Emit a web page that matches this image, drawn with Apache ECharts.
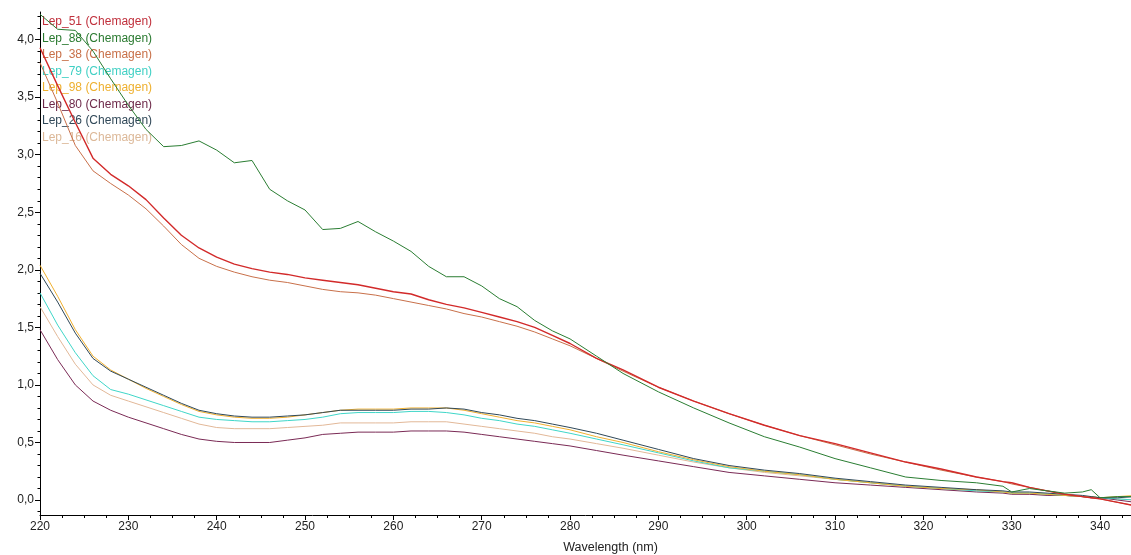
<!DOCTYPE html>
<html>
<head>
<meta charset="utf-8">
<script src="https://cdn.jsdelivr.net/npm/echarts@6/dist/echarts.min.js"></script>
<style>
  html, body { margin: 0; padding: 0; background: #ffffff; }
  #chart { width: 1131px; height: 555px; }
</style>
</head>
<body>
<div id="chart"></div>
<script>
// Wavelength sampling points (nm)
const wavelengths = [220,222,224,226,228,230,232,234,236,238,240,242,244,246,248,250,252,254,256,258,260,262,264,266,268,270,272,274,276,278,280,283,286,290,294,298,302,306,310,314,318,322,326,329,330,332,334,336,338,339,340,342,344];

// Absorbance spectra, one array per extract
const lep51 = [3.93,3.60,3.28,2.97,2.83,2.73,2.61,2.45,2.30,2.19,2.11,2.05,2.01,1.98,1.96,1.93,1.91,1.89,1.87,1.84,1.81,1.79,1.74,1.70,1.67,1.63,1.59,1.55,1.50,1.43,1.36,1.23,1.13,0.98,0.86,0.75,0.65,0.56,0.49,0.41,0.33,0.27,0.20,0.16,0.15,0.11,0.08,0.05,0.03,0.02,0.01,-0.02,-0.05];
const lep88 = [4.22,4.09,4.08,3.90,3.66,3.43,3.22,3.07,3.08,3.12,3.04,2.93,2.95,2.70,2.60,2.52,2.35,2.36,2.42,2.33,2.25,2.16,2.03,1.94,1.94,1.86,1.75,1.68,1.56,1.47,1.40,1.25,1.10,0.94,0.80,0.67,0.55,0.46,0.36,0.28,0.20,0.17,0.15,0.12,0.07,0.10,0.08,0.06,0.07,0.09,0.02,0.03,0.03];
const lep38 = [3.80,3.45,3.08,2.86,2.75,2.65,2.53,2.38,2.22,2.10,2.03,1.98,1.94,1.91,1.89,1.86,1.83,1.81,1.80,1.78,1.75,1.72,1.69,1.66,1.62,1.59,1.55,1.51,1.46,1.40,1.34,1.23,1.12,0.98,0.86,0.75,0.65,0.56,0.48,0.40,0.33,0.26,0.20,0.16,0.14,0.11,0.08,0.05,0.03,0.02,0.01,-0.02,-0.05];
const lep79 = [1.80,1.52,1.28,1.08,0.96,0.92,0.87,0.82,0.77,0.72,0.70,0.69,0.68,0.68,0.69,0.70,0.72,0.75,0.76,0.76,0.76,0.77,0.77,0.76,0.74,0.71,0.69,0.66,0.64,0.61,0.58,0.53,0.48,0.41,0.34,0.28,0.25,0.22,0.18,0.15,0.12,0.10,0.08,0.07,0.06,0.06,0.05,0.04,0.03,0.03,0.02,0.01,0.00];
const lep98 = [2.04,1.77,1.48,1.25,1.13,1.05,0.97,0.90,0.83,0.77,0.74,0.72,0.71,0.71,0.72,0.74,0.76,0.78,0.79,0.79,0.79,0.80,0.80,0.80,0.78,0.75,0.72,0.69,0.67,0.64,0.61,0.55,0.50,0.42,0.35,0.29,0.25,0.22,0.18,0.15,0.12,0.10,0.09,0.07,0.06,0.06,0.05,0.04,0.03,0.03,0.02,0.03,0.04];
const lep80 = [1.48,1.22,1.00,0.86,0.78,0.72,0.67,0.62,0.57,0.53,0.51,0.50,0.50,0.50,0.52,0.54,0.57,0.58,0.59,0.59,0.59,0.60,0.60,0.60,0.59,0.57,0.55,0.53,0.51,0.49,0.47,0.43,0.39,0.34,0.29,0.24,0.21,0.18,0.15,0.13,0.11,0.09,0.07,0.06,0.05,0.05,0.04,0.04,0.03,0.02,0.02,0.00,-0.02];
const lep26 = [1.97,1.72,1.45,1.23,1.12,1.05,0.98,0.91,0.84,0.78,0.75,0.73,0.72,0.72,0.73,0.74,0.76,0.78,0.78,0.78,0.78,0.79,0.79,0.80,0.79,0.76,0.74,0.71,0.69,0.66,0.63,0.58,0.52,0.44,0.36,0.30,0.26,0.23,0.19,0.16,0.13,0.11,0.09,0.08,0.07,0.07,0.06,0.05,0.04,0.03,0.02,0.02,0.03];
const lep16 = [1.68,1.42,1.18,1.00,0.91,0.86,0.81,0.76,0.71,0.66,0.63,0.62,0.62,0.62,0.63,0.64,0.65,0.67,0.67,0.67,0.67,0.68,0.68,0.68,0.66,0.64,0.62,0.60,0.58,0.55,0.53,0.49,0.45,0.39,0.33,0.28,0.24,0.21,0.18,0.15,0.12,0.10,0.08,0.07,0.06,0.05,0.05,0.04,0.03,0.02,0.02,0.01,0.00];

const seriesNames = ['Lep_51 (Chemagen)','Lep_88 (Chemagen)','Lep_38 (Chemagen)','Lep_79 (Chemagen)','Lep_98 (Chemagen)','Lep_80 (Chemagen)','Lep_26 (Chemagen)','Lep_16 (Chemagen)'];
const seriesValues = [lep51, lep88, lep38, lep79, lep98, lep80, lep26, lep16];
const seriesColors = ['#d22a2a','#2a7d32','#c8704a','#3fd6c8','#f0b030','#7a2a55','#2f4858','#e2b898'];
const legendColors = ['#c0303c','#2a7a30','#c87048','#40d0c4','#eeb030','#6e2a4a','#304858','#dcb898'];

// Absorbance tick positions: labelled steps and the small steps between them
const yMajorTicks = [0, 0.5, 1, 1.5, 2, 2.5, 3, 3.5, 4];
const yMinorTicks = [-0.1,0,0.1,0.2,0.3,0.4,0.5,0.6,0.7,0.8,0.9,1,1.1,1.2,1.3,1.4,1.5,1.6,1.7,1.8,1.9,2,2.1,2.2,2.3,2.4,2.5,2.6,2.7,2.8,2.9,3,3.1,3.2,3.3,3.4,3.5,3.6,3.7,3.8,3.9,4,4.1,4.2];

const yMin = -0.13, yMax = 4.24;
const fontFamily = 'Liberation Sans, Arial, sans-serif';

// Draw order: later series sit on top
const drawOrder = [7,5,3,4,6,2,0,1];

const series = drawOrder.map(function (i) {
  return {
    name: seriesNames[i],
    type: 'line',
    yAxisIndex: 0,
    data: wavelengths.map(function (w, k) { return [w, seriesValues[i][k]]; }),
    showSymbol: false,
    symbol: 'none',
    lineStyle: { color: seriesColors[i], width: i === 0 ? 1.4 : 1 },
    itemStyle: { color: seriesColors[i] },
    z: 2 + drawOrder.indexOf(i),
    animation: false
  };
});

const chart = echarts.init(document.getElementById('chart'));
chart.setOption({
  backgroundColor: '#ffffff',
  animation: false,
  grid: { left: 40, right: 0, top: 12, bottom: 40, containLabel: false, outerBoundsMode: 'none' },
  legend: {
    orient: 'vertical',
    left: 32,
    top: 10,
    itemGap: 3.5,
    itemWidth: 0,
    itemHeight: 14,
    icon: 'none',
    selectedMode: false,
    textStyle: { fontFamily: fontFamily, fontSize: 12 },
    data: seriesNames.map(function (n, i) {
      return { name: n, icon: 'none', textStyle: { color: legendColors[i] } };
    })
  },
  xAxis: {
    type: 'value',
    min: 220,
    max: 343.5,
    interval: 10,
    name: 'Wavelength (nm)',
    nameLocation: 'middle',
    nameGap: 26,
    nameTextStyle: { color: '#222', fontFamily: fontFamily, fontSize: 12.5, padding: [0, 0, 0, 50] },
    axisLine: { show: true, onZero: false, lineStyle: { color: '#000', width: 1 } },
    axisTick: { show: true, length: 5, lineStyle: { color: '#000' } },
    minorTick: { show: true, splitNumber: 4, length: 3, lineStyle: { color: '#000' } },
    axisLabel: {
      color: '#222', fontFamily: fontFamily, fontSize: 12, margin: 6,
      showMaxLabel: false,
      formatter: function (v) { return (v % 10 === 0) ? String(v) : ''; }
    },
    splitLine: { show: false }
  },
  yAxis: [
    {
      type: 'value',
      min: yMin,
      max: yMax,
      axisLine: { show: true, onZero: false, lineStyle: { color: '#000', width: 1 } },
      axisTick: { show: true, length: 5, customValues: yMajorTicks, lineStyle: { color: '#000' } },
      axisLabel: {
        color: '#222', fontFamily: fontFamily, fontSize: 12, margin: 6,
        customValues: yMajorTicks,
        formatter: function (v) { return v.toFixed(1).replace('.', ','); }
      },
      splitLine: { show: false }
    },
    {
      type: 'value',
      min: yMin,
      max: yMax,
      position: 'left',
      offset: 0,
      axisLine: { show: false, onZero: false },
      axisTick: { show: true, length: 2.5, customValues: yMinorTicks, lineStyle: { color: '#000' } },
      axisLabel: { show: false },
      splitLine: { show: false }
    }
  ],
  series: series
});
</script>
</body>
</html>
